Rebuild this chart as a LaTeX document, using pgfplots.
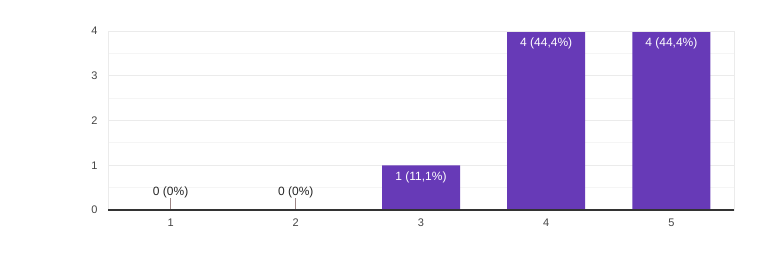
\documentclass[border=0pt]{standalone}
\usepackage{pgfplots}
\pgfplotsset{compat=1.18}
\usepackage{fontspec}
\setmainfont{Liberation Sans}
\definecolor{barc}{HTML}{673AB7}
\definecolor{tickc}{HTML}{444444}
\definecolor{gridc}{HTML}{EBEBEB}
\definecolor{minorc}{HTML}{F5F5F5}
\definecolor{stemc}{HTML}{9B8585}
\begin{document}
\begin{tikzpicture}
\path (0,0) rectangle (763pt,276pt);
\begin{axis}[
  at={(108pt,66pt)}, anchor=south west,
  scale only axis, width=626pt, height=179pt,
  xmin=0.5, xmax=5.5, ymin=0, ymax=4,
  xtick={1,2,3,4,5}, ytick={0,1,2,3,4},
  minor y tick num=1,
  major tick length=0pt, minor tick length=0pt,
  ymajorgrids, yminorgrids,
  major grid style={gridc, line width=0.8pt},
  minor grid style={minorc, line width=0.8pt},
  axis line style={draw=none},
  tick label style={font=\fontsize{11}{13}\selectfont, text=tickc},
  /pgf/number format/assume math mode=true,
  xticklabel style={yshift=-5pt},
  yticklabel style={xshift=-7pt},
  ybar, bar width=78pt,
  nodes near coords,
  point meta=explicit symbolic,
  clip=false,
  after end axis/.code={
    \draw[gridc, line width=0.8pt] (rel axis cs:0,0) rectangle (rel axis cs:1,1);
    \draw[black!80, line width=1.1pt] (rel axis cs:0,0) -- (rel axis cs:1,0);
  },
]
\addplot[ybar, bar shift=0pt, fill=barc, draw=none,
  every node near coord/.append style={anchor=north, yshift=-3pt, text=white, font=\fontsize{12}{14}\selectfont}]
  coordinates {(3,1) [1 (11,1\%)] (4,4) [4 (44,4\%)] (5,4) [4 (44,4\%)]};
\addplot[ybar, bar shift=0pt, fill=none, draw=none,
  every node near coord/.append style={anchor=south, inner sep=0pt, yshift=0pt, text=black!85, font=\fontsize{12}{14}\selectfont}]
  coordinates {(1,0) [\shortstack{0 (0\%)\\[-3pt]\textcolor{stemc}{\rule{0.8pt}{12pt}}}] (2,0) [\shortstack{0 (0\%)\\[-3pt]\textcolor{stemc}{\rule{0.8pt}{12pt}}}]};
\end{axis}
\end{tikzpicture}
\end{document}
